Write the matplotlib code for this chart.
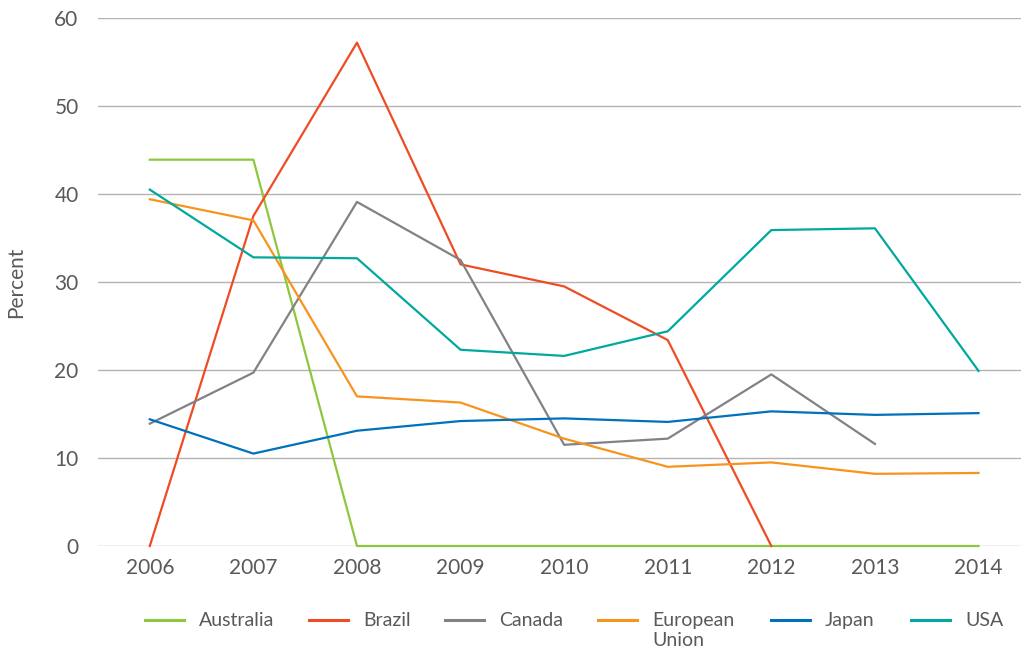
import numpy as np
import matplotlib
matplotlib.use("Agg")
import matplotlib.pyplot as plt
from matplotlib.lines import Line2D

years = [2006, 2007, 2008, 2009, 2010, 2011, 2012, 2013, 2014]

australia = [43.9, 43.9, 0, 0, 0, 0, 0, 0, 0]
brazil = [0, 37.5, 57.2, 32.0, 29.5, 23.4, 0]
canada = [13.9, 19.7, 39.1, 32.5, 11.5, 12.2, 19.5, 11.6]
eu = [39.4, 37.0, 17.0, 16.3, 12.2, 9.0, 9.5, 8.2, 8.3]
japan = [14.4, 10.5, 13.1, 14.2, 14.5, 14.1, 15.3, 14.9, 15.1]
usa = [40.5, 32.8, 32.7, 22.3, 21.6, 24.4, 35.9, 36.1, 19.9]

names = ['Australia', 'Brazil', 'Canada', 'European\nUnion', 'Japan', 'USA']
series = [australia, brazil, canada, eu, japan, usa]
colors = ['#8dc63f', '#ef4b24', '#808285', '#f7941d', '#0071bc', '#00a99d']

plt.rcParams['font.family'] = ['Lato', 'DejaVu Sans']
txt = '#58595b'
W, H = 1021, 649

fig = plt.figure(figsize=(W/100, H/100), dpi=100)
ax = fig.add_axes([98/W, 1-546/H, 923/W, 528/H])

for vals, name, c in zip(series, names, colors):
    ax.plot(years[:len(vals)], vals, color=c, lw=1.6, label=name, clip_on=False)

ax.set_xlim(2005.5, 2014.41)
ax.set_ylim(0, 60)
ax.set_yticks(range(0, 61, 10))
ax.set_xticks(years)
ax.grid(axis='y', color='#b3b3b3', lw=1)
ax.set_axisbelow(True)
for s in ax.spines.values():
    s.set_visible(False)
ax.tick_params(length=0, labelsize=15, colors=txt)
ax.tick_params(axis='x', pad=9)
ax.tick_params(axis='y', pad=14)
ax.set_ylabel('Percent', fontsize=15, color=txt, labelpad=20)

# legend laid out by hand so the two-line label hangs from its first line
handle_x = [145, 309, 445, 598, 771, 911]
for hx, name, c in zip(handle_x, names, colors):
    yl = 1 - 620/H
    fig.add_artist(Line2D([hx/W, (hx+39)/W], [yl, yl], color=c, lw=2.2,
                          transform=fig.transFigure))
    fig.text((hx+54)/W, 1-612/H, name, fontsize=14, color=txt, va='top',
             ha='left', linespacing=1.2)

fig.savefig('out.png', dpi=100)
